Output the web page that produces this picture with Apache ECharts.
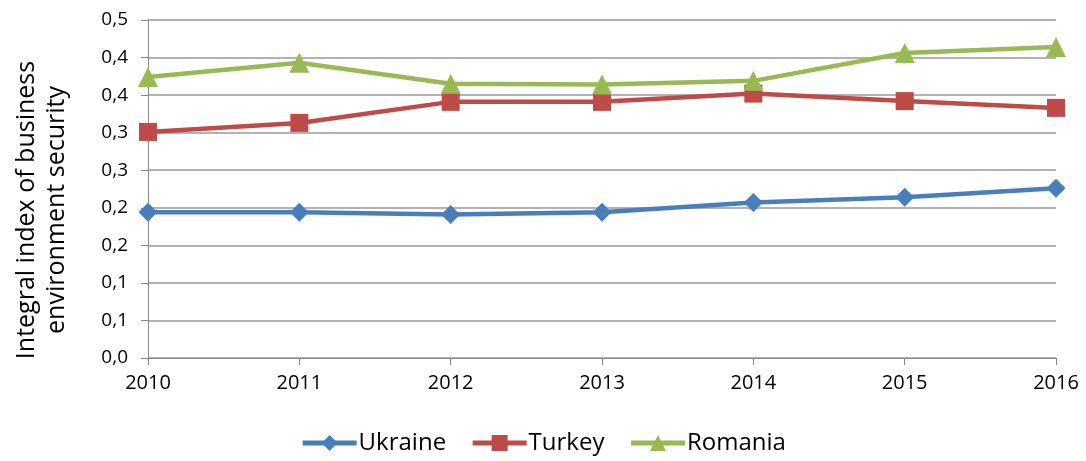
<!DOCTYPE html>
<html><head><meta charset="utf-8">
<script src="https://cdn.jsdelivr.net/npm/echarts@6/dist/echarts.min.js"></script>
<style>html,body{margin:0;padding:0;background:#fff}#c{width:1086px;height:461px}</style>
</head><body><div id="c"></div>
<script>
const years = ['2010','2011','2012','2013','2014','2015','2016'];
const ukraine = [0.194, 0.194, 0.191, 0.194, 0.207, 0.214, 0.226];
const turkey  = [0.301, 0.313, 0.341, 0.341, 0.352, 0.342, 0.333];
const romania = [0.374, 0.393, 0.365, 0.364, 0.369, 0.406, 0.414];
const yTickLabels = ['0,0','0,1','0,1','0,2','0,2','0,3','0,3','0,4','0,4','0,5'];
const FONT = 'Open Sans';
const chart = echarts.init(document.getElementById('c'));
function ser(name, data, color, symbol, size){
  return {name, type:'line', data, symbol, symbolSize:size,
    lineStyle:{color, width:4.5}, itemStyle:{color}, color, z:2};
}
chart.setOption({
  animation:false,
  grid:{left:148, right:30, top:20, bottom:103},
  legend:{bottom:1, left:'center', itemWidth:54, itemHeight:20, itemGap:24,
    lineStyle:{width:5},
    textStyle:{fontFamily:FONT, fontSize:24, color:'#000', padding:[0,0,0,-3]},
    data:['Ukraine','Turkey','Romania']},
  xAxis:{type:'category', data:years, boundaryGap:false,
    axisLine:{lineStyle:{color:'#888', width:1}},
    axisTick:{show:true, length:7, lineStyle:{color:'#888'}},
    axisLabel:{fontFamily:FONT, fontSize:20, color:'#000', margin:15}},
  yAxis:{type:'value', min:0, max:0.45, interval:0.05,
    name:'Integral index of business\nenvironment security', nameLocation:'middle', nameGap:76,
    nameTextStyle:{fontFamily:FONT, fontSize:25, color:'#000', lineHeight:30, padding:[0,42,0,0]},
    axisLine:{show:true, lineStyle:{color:'#888', width:1}},
    axisTick:{show:true, length:7, lineStyle:{color:'#888'}},
    splitLine:{lineStyle:{color:'#999', width:1.5}},
    axisLabel:{fontFamily:FONT, fontSize:19, color:'#000', margin:20,
      formatter:v=>yTickLabels[Math.round(v/0.05)]}},
  series:[
    ser('Ukraine', ukraine, '#4a7ebb', 'diamond', 19),
    ser('Turkey', turkey, '#be4b48', 'rect', 18),
    ser('Romania', romania, '#98b954', 'triangle', 20)
  ]
});
</script></body></html>
